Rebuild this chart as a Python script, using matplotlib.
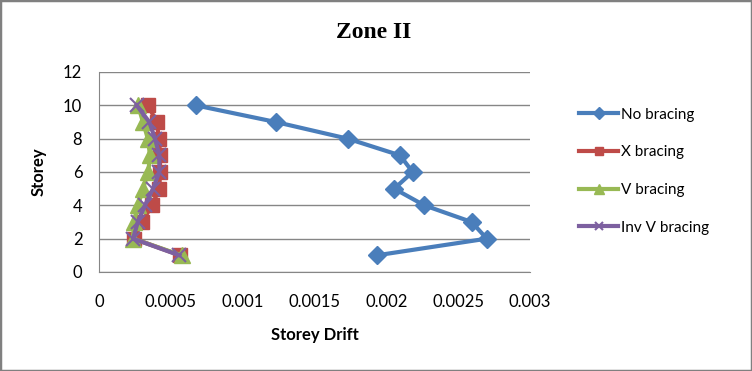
import matplotlib
matplotlib.use("Agg")
import matplotlib.pyplot as plt
from matplotlib.patches import Rectangle

storeys = [1, 2, 3, 4, 5, 6, 7, 8, 9, 10]
no_bracing = [0.001933, 0.002699, 0.002594, 0.002264, 0.002055, 0.002183, 0.002095, 0.001731, 0.00123, 0.000673]
x_bracing = [0.000564, 0.000242, 0.000300, 0.000369, 0.000420, 0.000425, 0.000425, 0.000418, 0.000401, 0.000342]
v_bracing = [0.000575, 0.000237, 0.000244, 0.000272, 0.000306, 0.000343, 0.000355, 0.000340, 0.000306, 0.000272]
inv_v_bracing = [0.000560, 0.000237, 0.000270, 0.000320, 0.000376, 0.000420, 0.000420, 0.000390, 0.000350, 0.000262]

x_ticks = [0, 0.0005, 0.001, 0.0015, 0.002, 0.0025, 0.003]
x_tick_labels = ["0", "0.0005", "0.001", "0.0015", "0.002", "0.0025", "0.003"]
y_ticks = [0, 2, 4, 6, 8, 10, 12]

font = "Lato"

fig = plt.figure(figsize=(7.52, 3.71), dpi=100)
fig.patches.append(Rectangle((0, 0), 1, 1, transform=fig.transFigure, fill=False,
                             edgecolor="#808080", linewidth=2.5))
ax = fig.add_axes([99/752, 1-272/371, (530-99)/752, 200/371])

ax.plot(no_bracing, storeys, color="#4A7EBB", lw=3, marker="D", ms=9.5, label="No bracing", zorder=3)
ax.plot(x_bracing, storeys, color="#BE4B48", lw=3, marker="s", ms=10.5, label="X bracing", zorder=3)
ax.plot(v_bracing, storeys, color="#98B954", lw=3, marker="^", ms=11.5, label="V bracing", zorder=4)
ax.plot(inv_v_bracing, storeys, color="#7D60A0", lw=3, marker="x", ms=10, mew=1.5, label="Inv V bracing", zorder=5)

ax.set_xlim(0, 0.003)
ax.set_ylim(0, 12)
ax.set_xticks(x_ticks)
ax.set_xticklabels(x_tick_labels)
ax.set_yticks(y_ticks)
ax.yaxis.grid(True, color="#868686", lw=1)
ax.set_axisbelow(True)
for s in ["top", "right"]:
    ax.spines[s].set_visible(False)
for s in ["left", "bottom"]:
    ax.spines[s].set_color("#868686")
ax.tick_params(axis="x", length=0, labelsize=12, pad=16)
ax.tick_params(axis="y", length=0, labelsize=12, pad=12)
for lab in ax.get_xticklabels() + ax.get_yticklabels():
    lab.set_fontfamily(font)

ax.set_xlabel("Storey Drift", fontsize=12, fontweight="bold", fontfamily=font, labelpad=12)
ax.set_ylabel("Storey", fontsize=12, fontweight="bold", fontfamily=font, labelpad=12)
fig.text(374/752, 1-33/371, "Zone II", ha="center", va="center", fontsize=17,
         fontweight="bold", fontfamily="Liberation Serif")

leg = ax.legend(loc="upper left", bbox_to_anchor=(565/752, 1-94/371), bbox_transform=fig.transFigure,
                frameon=False, prop={"family": font, "size": 11}, labelspacing=1.55,
                handlelength=2.6, handletextpad=0.15, markerscale=0.6)

fig.savefig("out.png", dpi=100)
